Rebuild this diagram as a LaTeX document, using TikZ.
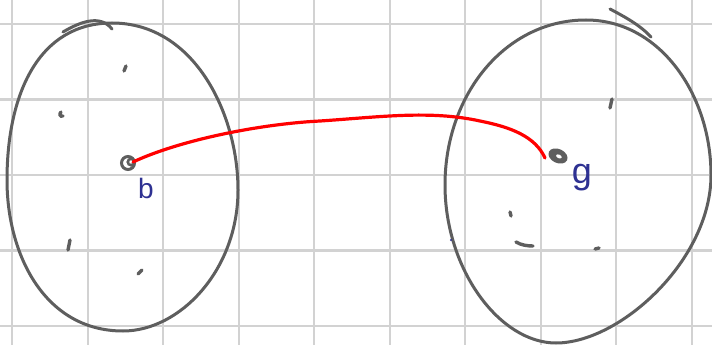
\documentclass[tikz,border=0pt]{standalone}
\usepackage{fontspec}
\setmainfont{Liberation Sans}
\definecolor{gridc}{HTML}{D2D2D2}
\definecolor{inkgray}{HTML}{5E5E5E}
\definecolor{inkblue}{HTML}{2E3192}
\definecolor{inkred}{HTML}{FF0000}
\tikzset{
  gridline/.style={draw=gridc, line width=2.2pt},
  blob/.style={draw=inkgray, line width=3pt, line cap=round, line join=round},
  tick/.style={draw=inkgray, line width=3.4pt, line cap=round},
  conn/.style={draw=inkred, line width=3.2pt, line cap=round},
  lbl/.style={text=inkblue, inner sep=0pt},
}
\begin{document}
\begin{tikzpicture}[x=1pt, y=-1pt]
\useasboundingbox (0,0) rectangle (712,345);
\fill[white] (0,0) rectangle (712,345);
% grid
\foreach \i in {0,...,9} { \draw[gridline] (12.3+75.5*\i,0) -- (12.3+75.5*\i,345); }
\foreach \j in {0,...,4} { \draw[gridline] (0,24+75.5*\j) -- (712,24+75.5*\j); }
% left blob
\draw[blob] (112,23) .. controls (195,23) and (238,115) .. (238,190)
  .. controls (238,270) and (180,331) .. (123,331)
  .. controls (45,331) and (7,255) .. (7,180)
  .. controls (7,95) and (38,23) .. cycle;
\draw[blob] (63,32) .. controls (80,22) and (100,14) .. (112,29);
% right blob
\draw[blob] (586,20) .. controls (660,20) and (711,95) .. (711,175)
  .. controls (711,260) and (620,343) .. (556,343)
  .. controls (500,343) and (445,270) .. (445,185)
  .. controls (445,95) and (505,20) .. cycle;
\draw[blob] (610,9) .. controls (625,17) and (640,25) .. (651,37);
% small marks left
\draw[tick] (126,66) -- (124,71);
\draw[tick] (61,112) .. controls (59,114) and (60,117) .. (63,116);
\draw[tick] (70,240) -- (68,250);
\draw[tick] (138,274) -- (142,270);
% small marks right
\draw[tick] (612,99) -- (610,108);
\draw[tick] (510,212) -- (511,216);
\draw[tick] (516,242) .. controls (521,245) and (527,246) .. (533,246);
\draw[tick] (595,249) -- (599,248);
\fill[inkblue] (451,240) circle (1.2pt);
% points
\coordinate (b) at (133,162);
\coordinate (g) at (545,158);
\draw[inkgray, line width=3pt] (128,163) circle (6.5pt);
\draw[inkgray, line width=2.6pt] (131,162) circle (3.2pt);
\fill[inkgray, rotate around={-25:(558,156)}] (558,156) ellipse (10pt and 7pt);
\fill[white, rotate around={-25:(558,156)}] (559,156) ellipse (3pt and 1.8pt);
% connector
\draw[conn] (b) .. controls (180,140) and (260,124) .. (320,121)
  .. controls (380,117) and (430,110) .. (480,121)
  .. controls (510,127) and (535,136) .. (g);
% labels
\node[lbl, font=\fontsize{28}{28}\selectfont] (lb) at (146,188) {b};
\node[lbl, font=\fontsize{36}{36}\selectfont] (lg) at (582,178) {g};
\end{tikzpicture}
\end{document}
